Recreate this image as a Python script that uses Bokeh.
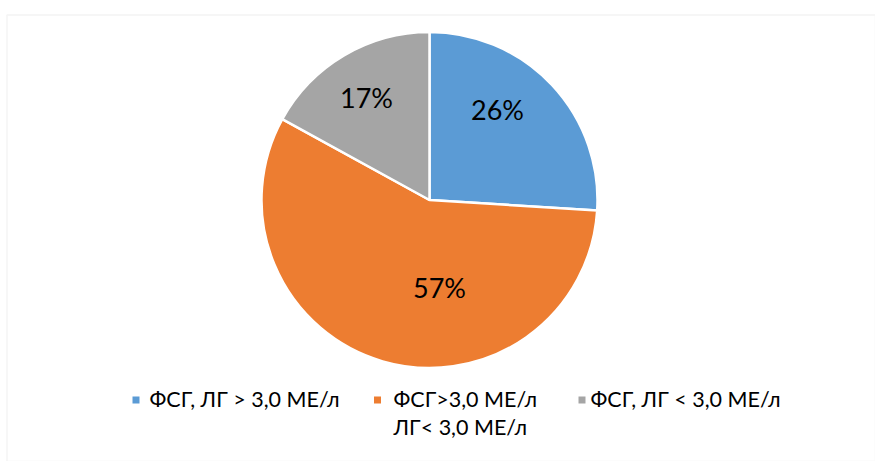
import numpy as np
from bokeh.plotting import figure
from bokeh.models import Range1d, ColumnDataSource, BoxAnnotation
from bokeh.core.properties import value
from bokeh.embed import file_html
from bokeh.resources import INLINE

# --- data ---
categories = ["ФСГ, ЛГ > 3,0 МЕ/л", "ФСГ>3,0 МЕ/л\nЛГ< 3,0 МЕ/л", "ФСГ, ЛГ < 3,0 МЕ/л"]
shares = [26, 57, 17]
colors = ["#5B9BD5", "#ED7D31", "#A5A5A5"]

# --- layout (pixel space, y measured upward) ---
W, H = 875, 461
CX, CY, R = 429, H - 199.5, 168
# label anchor offsets from the pie centre (dx, dy up)
label_offsets = [(68, 91), (10, -87), (-63, 103)]
legend_marker_x = [135.5, 377, 581.5]
legend_text_x = [149, 393, 590]
legend_marker_y = H - 399.5
legend_text_top = H - 385

FONT = "Lato"
LEGEND_SIZE = 21.5

frac = np.array(shares, dtype=float) / sum(shares)
cum_end = np.cumsum(frac)
cum_start = cum_end - frac
start_angle = np.pi / 2 - 2 * np.pi * cum_start
end_angle = np.pi / 2 - 2 * np.pi * cum_end

pie = ColumnDataSource(dict(
    start=start_angle, end=end_angle, color=colors,
    lx=[CX + dx for dx, _ in label_offsets],
    ly=[CY + dy for _, dy in label_offsets],
    label=[f"{s}%" for s in shares],
))

legend = ColumnDataSource(dict(
    mx=legend_marker_x, tx=legend_text_x,
    my=[legend_marker_y] * len(categories),
    ty=[legend_text_top] * len(categories),
    color=colors, name=categories,
))

p = figure(width=W, height=H, x_range=Range1d(0, W), y_range=Range1d(0, H),
           output_backend="svg", toolbar_location=None, min_border=0)
p.axis.visible = False
p.grid.visible = False
p.outline_line_color = None
p.background_fill_color = "white"
p.border_fill_color = "white"

# chart area frame
p.add_layout(BoxAnnotation(left=6.5, top=H - 14.5, fill_color=None,
                           line_color="#D9D9D9", line_width=1.5))

p.wedge(x=CX, y=CY, radius=R, start_angle="start", end_angle="end",
        direction="clock", fill_color="color", line_color="white",
        line_width=2.5, source=pie)

p.text(x="lx", y="ly", text="label", source=pie, text_align="center",
       text_baseline="middle", text_font=value(FONT), text_font_size="27px",
       text_color="#000000")

p.scatter(x="mx", y="my", marker="square", size=7, fill_color="color",
          line_color=None, source=legend)
p.text(x="tx", y="ty", text="name", source=legend, text_align="left",
       text_baseline="top", text_font=value(FONT),
       text_font_size=f"{LEGEND_SIZE}px", text_color="#000000",
       text_line_height=1.08)

open("out.html", "w").write(file_html(p, INLINE))
